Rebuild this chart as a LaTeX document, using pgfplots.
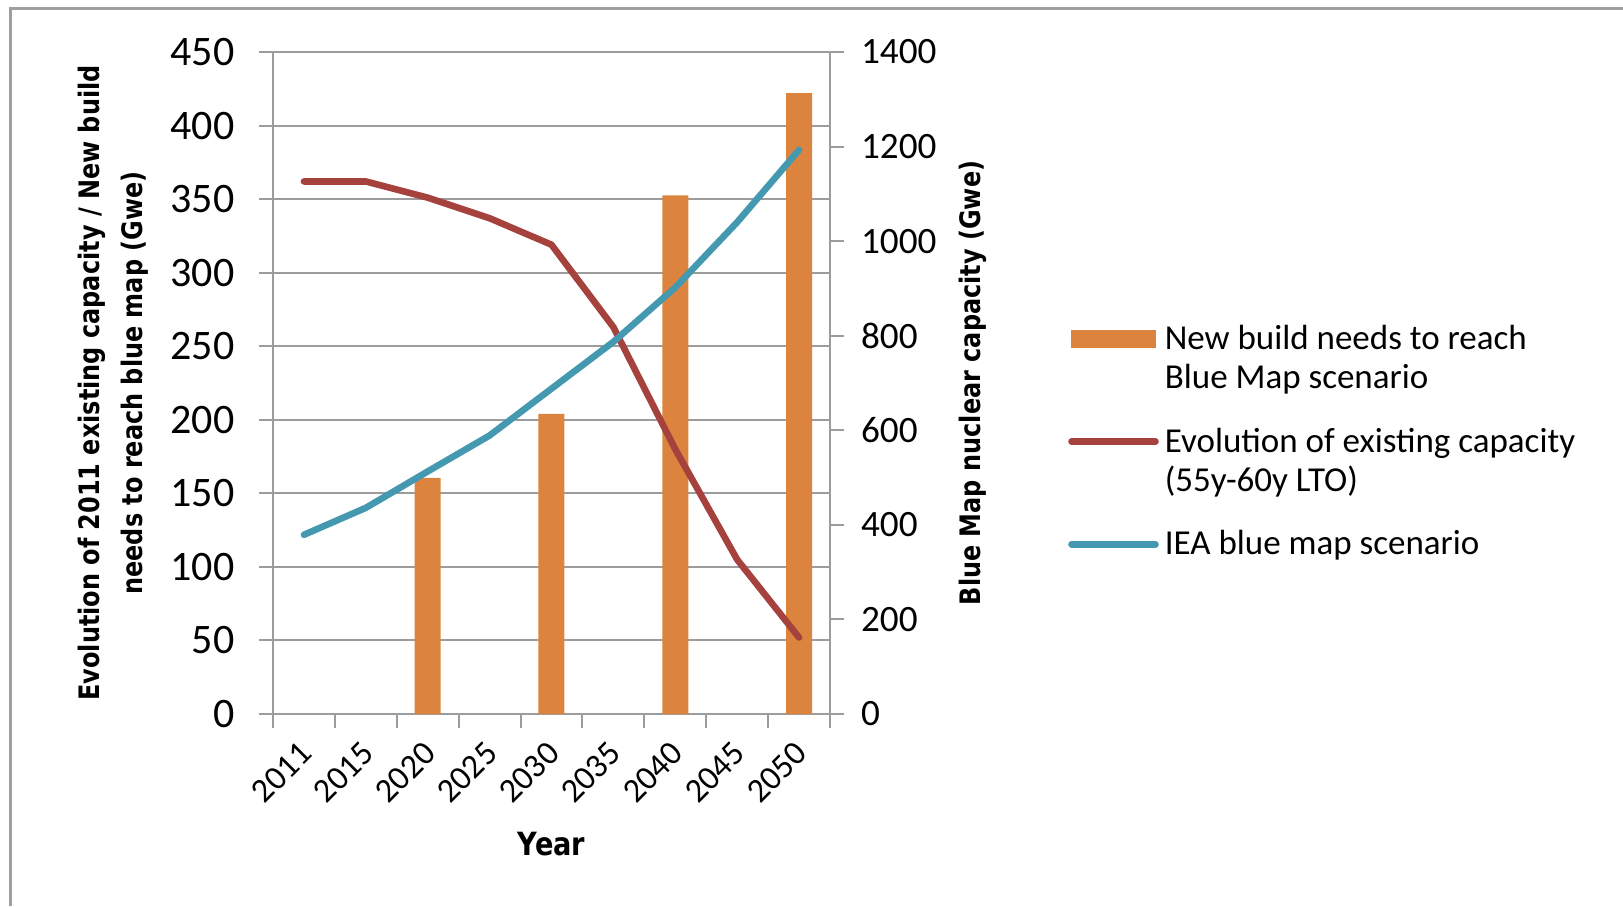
\documentclass[border=0pt]{standalone}
\usepackage{pgfplots}
\pgfplotsset{compat=1.18}
\usepackage{fontspec}
\setmainfont{Carlito}
\newfontfamily\labelfont{DejaVu Sans}[FakeStretch=0.85]
\definecolor{barorange}{HTML}{DC843E}
\definecolor{linered}{HTML}{A5423D}
\definecolor{lineblue}{HTML}{4499B1}
\definecolor{gridgray}{HTML}{9C9C9C}
\begin{document}
\begin{tikzpicture}[x=1pt,y=1pt]
\useasboundingbox (0,0) rectangle (811.5,453);
\draw[gray!75, line width=1.2pt] (5.2,0) -- (5.2,448.8) -- (811.5,448.8);
\pgfplotsset{
  common/.style={
    scale only axis, width=278.5pt, height=331pt,
    at={(136.5pt,96pt)}, anchor=south west,
    xmin=-0.5, xmax=8.5,
    /pgf/number format/assume math mode=true,
    /pgf/number format/1000 sep={},
    tick align=outside,
    major tick length=7pt,
    axis line style={draw=gridgray, line width=1pt},
    every tick/.style={gridgray, line width=1pt},
  }
}
\begin{axis}[common,
  ymin=0, ymax=450, ytick={0,50,...,450},
  tick pos=left,
  yticklabel style={font=\fontsize{21}{23}\selectfont, text=black, xshift=-8.8pt},
  ymajorgrids, grid style={gridgray, line width=1pt},
  xtick={0,...,8},
  xticklabels={2011,2015,2020,2025,2030,2035,2040,2045,2050},
  major x tick style={draw=none},
  minor xtick={-0.5,0.5,...,8.5},
  minor tick length=7pt,
  minor x tick style={gridgray, line width=1pt},
  xticklabel style={font=\fontsize{17}{19}\selectfont, text=black, xshift=3.5pt, yshift=-7.5pt, rotate=45, anchor=east},
  xlabel={Year},
  xlabel style={font=\labelfont\bfseries\fontsize{16}{18}\selectfont, at={(axis description cs:0.5,0)}, anchor=center, yshift=-65pt},
  ylabel={Evolution of 2011 existing capacity / New build\\needs to reach blue map (Gwe)},
  ylabel style={font=\labelfont\bfseries\fontsize{14.1}{21.5}\selectfont, align=center, at={(axis description cs:0,0.5)}, anchor=center, yshift=80pt},
]
\addplot[ybar, bar width=13pt, fill=barorange, draw=none] coordinates {(2,160.5) (4,204) (6,352.6) (8,422)};
\addplot[linered, line width=3.3pt, line cap=round, line join=round] coordinates {(0,362) (1,362) (2,351) (3,337) (4,319) (5,263) (6,180) (7,105) (8,52)};
\end{axis}
\begin{axis}[common,
  ymin=0, ymax=1400, ytick={0,200,...,1400},
  yticklabel style={font=\fontsize{18.6}{21}\selectfont, text=black, xshift=5pt},
  axis y line*=right, axis x line=none,
  ylabel={Blue Map nuclear capacity (Gwe)},
  ylabel style={font=\labelfont\bfseries\fontsize{14.1}{16}\selectfont, at={(axis description cs:1,0.5)}, anchor=center, yshift=-71.5pt},
  legend style={draw=none, fill=none, at={(axis description cs:1.427,0.594)}, anchor=north west, inner sep=0pt, row sep=14.2pt,
    font=\fontsize{17.5}{19.5}\selectfont, nodes={align=left, inner xsep=3pt}},
  legend cell align=left,
]
\addlegendimage{legend image code/.code={\fill[barorange] (0pt,5.5pt) rectangle (42pt,14pt);}}
\addlegendentry{New build needs to reach\\Blue Map scenario}
\addlegendimage{legend image code/.code={\draw[linered, line width=3.3pt, line cap=round] (0pt,9.75pt) -- (42pt,9.75pt);}}
\addlegendentry{Evolution of existing capacity\\(55y-60y LTO)}
\addplot[lineblue, line width=3.3pt, line cap=round, line join=round,
  legend image code/.code={\draw[lineblue, line width=3.3pt, line cap=round] (0pt,0pt) -- (42pt,0pt);}]
  coordinates {(0,379) (1,436) (2,513) (3,589) (4,688) (5,787) (6,902) (7,1040) (8,1193)};
\addlegendentry{IEA blue map scenario}
\end{axis}
\end{tikzpicture}
\end{document}
